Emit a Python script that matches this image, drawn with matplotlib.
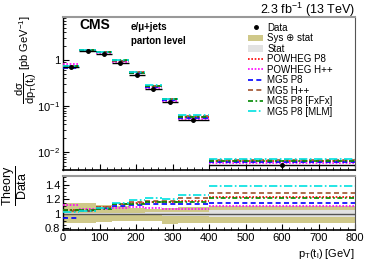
import numpy as np
import matplotlib
matplotlib.use("Agg")
import matplotlib.pyplot as plt
from matplotlib.patches import Patch
from matplotlib.lines import Line2D
from matplotlib.ticker import FixedLocator, LogLocator, NullFormatter

plt.rcParams['font.family'] = ['Liberation Sans', 'DejaVu Sans']
plt.rcParams['mathtext.fontset'] = 'custom'
plt.rcParams['mathtext.rm'] = 'Liberation Sans'
plt.rcParams['mathtext.it'] = 'Liberation Sans'

# ---- data ----
bin_edges = [0, 45, 90, 135, 180, 225, 270, 315, 400, 800]
data_xsec = [0.72, 1.55, 1.37, 0.86, 0.47, 0.23, 0.12, 0.050, 0.0052]
data_relerr = [0.04, 0.03, 0.03, 0.04, 0.05, 0.06, 0.07, 0.08, 0.10]

sys_lo = [0.87, 0.87, 0.88, 0.90, 0.90, 0.90, 0.86, 0.87, 0.87]
sys_hi = [1.15, 1.15, 1.12, 1.10, 1.08, 1.07, 1.08, 1.09, 1.11]
stat_err = [0.01, 0.01, 0.01, 0.01, 0.015, 0.02, 0.025, 0.03, 0.045]

model_names = ["POWHEG P8", "POWHEG H++", "MG5 P8", "MG5 H++", "MG5 P8 [FxFx]", "MG5 P8 [MLM]"]
ratio_powheg_p8 = [1.05, 1.05, 1.09, 1.13, 1.15, 1.16, 1.16, 1.18, 1.23]
ratio_powheg_hpp = [1.12, 1.06, 1.06, 1.08, 1.09, 1.085, 1.06, 1.07, 1.10]
ratio_mg5_p8 = [0.94, 1.04, 1.08, 1.11, 1.12, 1.14, 1.13, 1.13, 1.15]
ratio_mg5_hpp = [1.04, 1.04, 1.09, 1.13, 1.16, 1.18, 1.18, 1.22, 1.29]
ratio_fxfx = [1.055, 1.05, 1.07, 1.14, 1.14, 1.16, 1.16, 1.16, 1.22]
ratio_mlm = [1.03, 1.04, 1.08, 1.15, 1.19, 1.22, 1.20, 1.26, 1.38]
model_ratios = [ratio_powheg_p8, ratio_powheg_hpp, ratio_mg5_p8, ratio_mg5_hpp, ratio_fxfx, ratio_mlm]

ytick_vals = [0.01, 0.1, 1]
ytick_labels = [r"$10^{-2}$", r"$10^{-1}$", "1"]

model_colors = ["#ff0000", "#ff00ff", "#0000ff", "#a0522d", "#008800", "#00e0e0"]
model_styles = [(0, (1, 1)), (0, (1, 1)), (0, (3, 2)), (0, (3, 2)), (0, (3, 1.5, 1, 1.5)), (0, (5, 1.5, 1, 1.5))]

edges = np.array(bin_edges, dtype=float)
lo_e = edges[:-1]
hi_e = edges[1:]
centers = 0.5 * (lo_e + hi_e)
half = 0.5 * (hi_e - lo_e)
dx = np.array(data_xsec)

fig = plt.figure(figsize=(3.74, 2.68), dpi=100)
W, H = 374, 268
def rect(l, t, r, b):
    return [l / W, 1 - b / H, (r - l) / W, (b - t) / H]

ax = fig.add_axes(rect(63, 17, 355, 170))
axr = fig.add_axes(rect(63, 176, 355, 230))

sys_col = "#cfc889"
stat_col = "#e2e2e2"

# upper panel
for i, (name, rat, c, ls) in enumerate(zip(model_names, model_ratios, model_colors, model_styles)):
    ax.hlines(dx * np.array(rat), lo_e, hi_e, colors=c, linestyles=[ls], lw=1.2, zorder=3)
ax.errorbar(centers, dx, xerr=half, yerr=dx * np.array(data_relerr), fmt='o', color='black',
            ms=2.5, lw=1.0, capsize=0, zorder=5)
ax.set_yscale('log')
ax.set_xlim(0, 800)
ax.set_ylim(0.0041, 8.6)
ax.yaxis.set_major_locator(FixedLocator(ytick_vals))
ax.set_yticklabels(ytick_labels)
ax.yaxis.set_minor_locator(LogLocator(base=10, subs=np.arange(2, 10)))
ax.yaxis.set_minor_formatter(NullFormatter())
ax.set_xticks(np.arange(0, 801, 100))
ax.set_xticks(np.arange(0, 801, 20), minor=True)
ax.tick_params(axis='x', labelbottom=False)

# lower panel
for i in range(len(lo_e)):
    axr.fill_between([lo_e[i], hi_e[i]], sys_lo[i], sys_hi[i], color=sys_col, lw=0, zorder=1)
    axr.fill_between([lo_e[i], hi_e[i]], 1 - stat_err[i], 1 + stat_err[i], color=stat_col, lw=0, zorder=2)
axr.axhline(1.0, color='#555555', lw=1.0, zorder=2.5)
for name, rat, c, ls in zip(model_names, model_ratios, model_colors, model_styles):
    axr.hlines(rat, lo_e, hi_e, colors=c, linestyles=[ls], lw=1.2, zorder=3)
axr.set_xlim(0, 800)
axr.set_ylim(0.775, 1.52)
axr.set_yticks([0.8, 1.0, 1.2, 1.4])
axr.set_yticklabels(["0.8", "1", "1.2", "1.4"])
axr.set_yticks(np.arange(0.8, 1.51, 0.05), minor=True)
axr.set_xticks(np.arange(0, 801, 100))
axr.set_xticks(np.arange(0, 801, 20), minor=True)

for a in (ax, axr):
    a.tick_params(which='both', direction='in', top=False, right=False, labelsize=8, pad=2)
    a.tick_params(which='major', length=4, width=0.8)
    a.tick_params(which='minor', length=2, width=0.6)
    a.spines['left'].set_linewidth(1.0)
    a.spines['bottom'].set_linewidth(1.2)
    a.spines['top'].set_color('#999999')
    a.spines['right'].set_color('#555555')
    a.spines['top'].set_linewidth(1.5)
    a.spines['right'].set_linewidth(0.8)

fig.text(26 / W, 1 - 60 / H, r"$\dfrac{d\sigma}{dp_{T}(t_{l})}$ [pb GeV$^{-1}$]",
         rotation=90, ha='center', va='center', fontsize=8)
fig.text(15 / W, 1 - 186 / H, r"$\dfrac{\mathrm{Theory}}{\mathrm{Data}}$",
         rotation=90, ha='center', va='center', fontsize=9)
axr.set_xlabel(r"$p_{T}(t_{l})$ [GeV]", fontsize=8, loc='right', labelpad=3)

# texts
fig.text(355 / W, 1 - 10 / H, r"2.3 fb$^{-1}$ (13 TeV)", ha='right', va='center', fontsize=9)
fig.text(79 / W, 1 - 25 / H, "CMS", fontsize=10, fontweight='bold', va='center')
fig.text(131 / W, 1 - 27 / H, "e/\u03bc+jets", fontsize=7, fontweight='bold', va='center')
fig.text(131 / W, 1 - 41 / H, "parton level", fontsize=7, fontweight='bold', va='center')

handles = [Line2D([], [], marker='o', color='black', ls='none', ms=2.5),
           Patch(facecolor=sys_col, edgecolor='none'),
           Patch(facecolor=stat_col, edgecolor='none')]
labels = ["Data", "Sys \u2295 stat", "Stat"]
for name, c, ls in zip(model_names, model_colors, model_styles):
    handles.append(Line2D([], [], color=c, ls=ls, lw=1.2))
    labels.append(name)
leg = ax.legend(handles, labels, loc='upper left', bbox_to_anchor=(243 / W, 1 - 18 / H),
                bbox_transform=fig.transFigure, frameon=False, fontsize=7,
                handlelength=1.6, handletextpad=0.4, labelspacing=0.05, borderpad=0)

fig.savefig("out.png", dpi=100)
